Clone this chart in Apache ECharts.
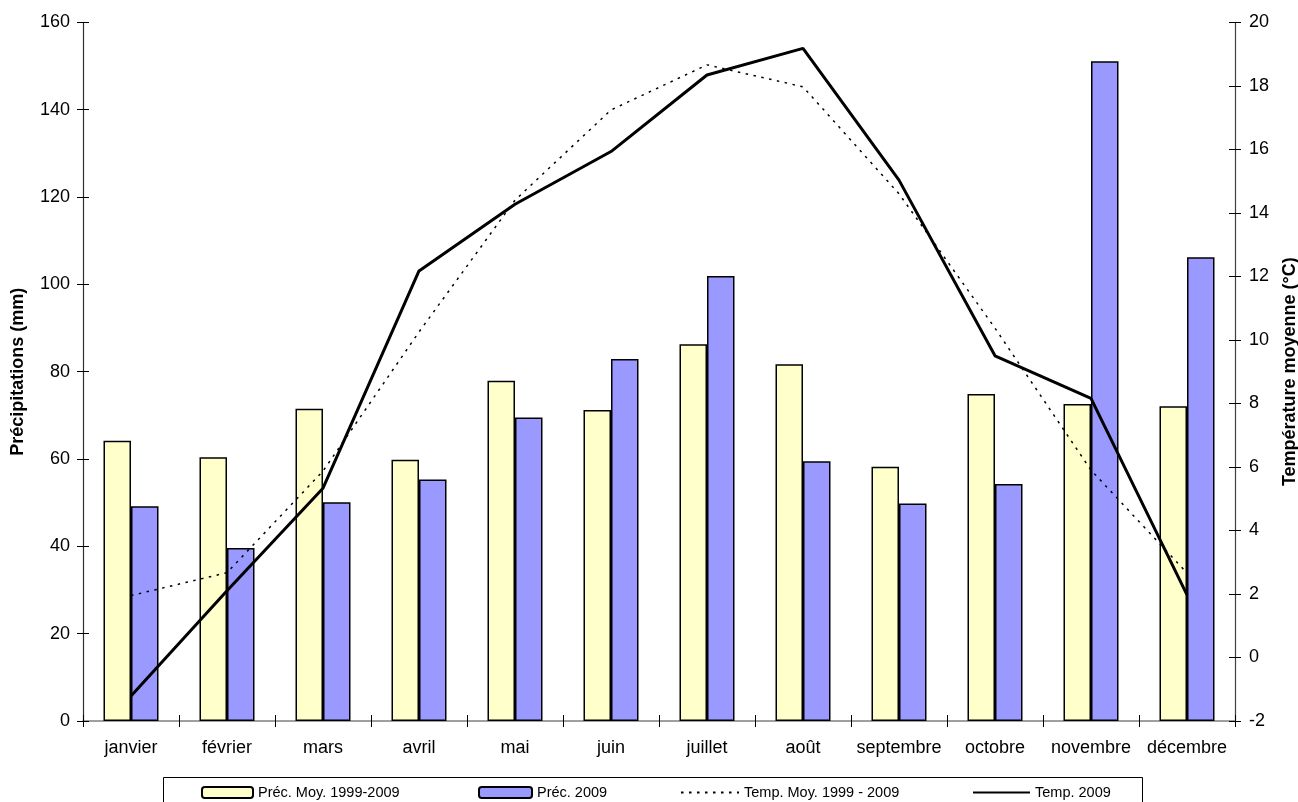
<!DOCTYPE html>
<html>
<head>
<meta charset="utf-8">
<script src="https://cdn.jsdelivr.net/npm/echarts@6/dist/echarts.min.js"></script>
<style>
html,body{margin:0;padding:0;background:#fff;}
#chart{width:1298px;height:802px;}
</style>
</head>
<body>
<div id="chart"></div>
<script>
var months = ['janvier','février','mars','avril','mai','juin','juillet','août','septembre','octobre','novembre','décembre'];
var precMoy = [64.2, 60.4, 71.5, 59.8, 77.9, 71.2, 86.3, 81.7, 58.2, 74.9, 72.6, 72.1];
var prec2009 = [49.2, 39.6, 50.1, 55.3, 69.5, 82.9, 101.9, 59.5, 49.8, 54.3, 151.1, 106.2];
var tempMoy = [1.95, 2.67, 5.87, 10.25, 14.4, 17.24, 18.66, 17.97, 14.6, 10.37, 5.9, 2.66];
var temp2009 = [-1.21, 2.1, 5.33, 12.17, 14.27, 15.93, 18.34, 19.18, 15.03, 9.5, 8.16, 1.97];
var names = ['Préc. Moy. 1999-2009', 'Préc. 2009', 'Temp. Moy. 1999 - 2009', 'Temp. 2009'];

var FONT = '"Liberation Sans", Arial, sans-serif';
var chart = echarts.init(document.getElementById('chart'), null, {renderer:'canvas'});

function legendAt(name, left, w, isLine){
  var l = {
    data:[name], left:left, top:785, padding:0,
    itemWidth:w, itemHeight:11, itemGap:0,
    selectedMode:false,
    textStyle:{fontFamily:FONT, fontSize:14.5, color:'#000', lineHeight:15}
  };
  if (isLine) { l.itemStyle = {opacity:0}; }
  return l;
}

var option = {
  backgroundColor:'#fff',
  animation:false,
  grid:{left:83, right:63, top:22.3, bottom:81, containLabel:false, outerBoundsMode:'none'},
  legend:[
    legendAt(names[0], 201, 51, false),
    legendAt(names[1], 478, 53, false),
    legendAt(names[2], 680, 58, true),
    legendAt(names[3], 972, 57, true)
  ],
  graphic:[{
    type:'rect', left:163, top:777, silent:true, z:-1,
    shape:{width:979, height:40},
    style:{fill:'#fff', stroke:'#000', lineWidth:1}
  }],
  xAxis:[{
    type:'category', data:months, boundaryGap:true, position:'bottom',
    axisLine:{show:true, onZero:false, lineStyle:{color:'#808080', width:1.5}},
    axisTick:{show:true, inside:false, length:6, lineStyle:{color:'#000', width:1}},
    axisLabel:{fontFamily:FONT, fontSize:18, color:'#000', margin:18, interval:0},
    splitLine:{show:false}
  },{
    type:'category', data:months, boundaryGap:true, position:'bottom',
    axisLine:{show:false, onZero:false},
    axisTick:{show:true, inside:true, length:6, lineStyle:{color:'#000', width:1}},
    axisLabel:{show:false}, splitLine:{show:false}
  }],
  yAxis:[{
    type:'value', min:0, max:160, interval:20, position:'left',
    name:'Précipitations (mm)', nameLocation:'middle', nameGap:56, nameRotate:90,
    nameTextStyle:{fontFamily:FONT, fontSize:18, fontWeight:'bold', color:'#000'},
    axisLine:{show:true, lineStyle:{color:'#303030', width:1.2}},
    axisTick:{show:true, inside:false, length:6, lineStyle:{color:'#000'}},
    axisLabel:{fontFamily:FONT, fontSize:18, color:'#000', margin:13},
    splitLine:{show:false}
  },{
    type:'value', min:-2, max:20, interval:2, position:'right',
    name:'Température moyenne (°C)', nameLocation:'middle', nameGap:46, nameRotate:90,
    nameTextStyle:{fontFamily:FONT, fontSize:18, fontWeight:'bold', color:'#000'},
    axisLine:{show:true, lineStyle:{color:'#404040', width:1.2}},
    axisTick:{show:true, inside:false, length:6, lineStyle:{color:'#000'}},
    axisLabel:{fontFamily:FONT, fontSize:18, color:'#000', margin:14},
    splitLine:{show:false}
  },{
    type:'value', min:0, max:160, interval:20, position:'left',
    axisLine:{show:false}, axisLabel:{show:false}, splitLine:{show:false},
    axisTick:{show:true, inside:true, length:6, lineStyle:{color:'#000'}}
  },{
    type:'value', min:-2, max:20, interval:2, position:'right',
    axisLine:{show:false}, axisLabel:{show:false}, splitLine:{show:false},
    axisTick:{show:true, inside:true, length:6, lineStyle:{color:'#000'}}
  }],
  series:[{
    name:names[0], type:'bar', xAxisIndex:0, yAxisIndex:0, data:precMoy,
    barWidth:27.5, barGap:'0%',
    itemStyle:{color:'#FFFFCC', borderColor:'#000', borderWidth:1.5},
    z:2
  },{
    name:names[1], type:'bar', xAxisIndex:0, yAxisIndex:0, data:prec2009,
    barWidth:27.5, barGap:'0%',
    itemStyle:{color:'#9999FF', borderColor:'#000', borderWidth:1.5},
    z:2
  },{
    name:names[2], type:'line', xAxisIndex:0, yAxisIndex:1, data:tempMoy,
    symbol:'none', smooth:false,
    lineStyle:{color:'#000', width:1.5, type:[2.5,5.5]},
    itemStyle:{color:'#000'},
    z:5
  },{
    name:names[3], type:'line', xAxisIndex:0, yAxisIndex:1, data:temp2009,
    symbol:'none', smooth:false,
    lineStyle:{color:'#000', width:3},
    itemStyle:{color:'#000'},
    z:6
  }]
};
chart.setOption(option);
</script>
</body>
</html>
